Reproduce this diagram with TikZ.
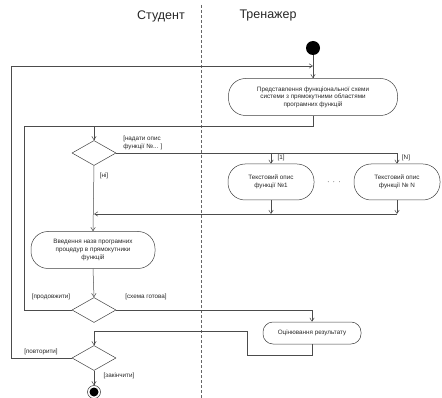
\documentclass[tikz,border=0pt]{standalone}
\usepackage{fontspec}
\setmainfont{Liberation Sans}
\usetikzlibrary{arrows.meta,shapes.geometric}
\begin{document}
\begin{tikzpicture}[x=1pt,y=-1pt,
  line width=0.5pt,
  every node/.style={text=black!85},
  arr/.style={draw=black!70,-{Straight Barb[length=3.5pt,width=4.5pt]}},
  ln/.style={draw=black!70},
  act/.style={draw=black!75,rounded corners=13pt,align=center,font=\fontsize{6.3}{7.6}\selectfont,inner sep=1pt},
  dec/.style={draw=black!75,diamond,inner sep=0pt,minimum width=44pt,minimum height=25pt},
  lbl/.style={font=\fontsize{6.3}{7.6}\selectfont,inner sep=0pt,align=left},
  hdr/.style={font=\fontsize{12.5}{14}\selectfont,inner sep=0pt}]
\useasboundingbox (0,0) rectangle (442,398);
% lanes
\node[hdr] (hs) at (161,16) {Студент};
\node[hdr] (ht) at (268,16) {Тренажер};
\coordinate (dtop) at (201,5);
\coordinate (dbot) at (201,398);
\draw[black!60,line width=0.8pt,dash pattern=on 3pt off 2pt] (dtop) -- (dbot);
% nodes
\node[circle,fill=black,minimum size=14pt,inner sep=0pt] (start) at (313,48) {};
\node[act,minimum width=169pt,minimum height=37pt,rounded corners=17pt] (b1) at (313,97)
  {Представлення функціональної схеми\\системи з прямокутними областями\\програмних функцій};
\node[dec] (d1) at (94,153) {};
\node[act,minimum width=86pt,minimum height=36pt,rounded corners=17pt] (t1) at (271,182) {Текстовий опис\\функції №1};
\node[act,minimum width=86pt,minimum height=36pt,rounded corners=17pt] (tN) at (397,182) {Текстовий опис\\функції № N};
\node[lbl,font=\fontsize{9}{10}\selectfont] (dots) at (334,182) {$\cdot$\hspace{3pt}$\cdot$\hspace{3pt}$\cdot$};
\node[act,minimum width=124pt,minimum height=37pt,rounded corners=17pt] (b2) at (93,250)
  {Введення назв програмних\\процедур в прямокутники\\функцій};
\node[dec] (d2) at (94,310) {};
\node[act,minimum width=98pt,minimum height=22pt,rounded corners=10pt] (b3) at (312,333) {Оцінювання результату};
\node[dec] (d3) at (94,358) {};
\node[circle,draw=black!80,minimum size=13pt,inner sep=0pt] (end) at (94,392) {};
\node[circle,fill=black,minimum size=9pt,inner sep=0pt] (endin) at (end) {};
% coordinates
\coordinate (m0) at (313,66);
\coordinate (j1) at (94,126);
\coordinate (j2) at (94,214);
\coordinate (br1) at (t1.north |- d1.east);
\coordinate (jt1) at (t1.south |- j2);
\coordinate (jtN) at (tN.south |- j2);
% connectors
\draw[arr] (start) -- (b1);
\draw[arr] (d3.west) -- (11,358) |- (m0);
\draw[arr] (b1.south) |- (j1) -- (d1.north);
\draw[ln] (d2.west) -- (24,310) |- (j1);
\draw[arr] (d1.east) -| (tN.north);
\draw[arr] (br1) -- (t1.north);
\draw[arr] (t1.south) -- (jt1);
\draw[arr] (tN.south) -- (jtN);
\draw[arr] (jtN) -- (j2);
\draw[arr] (d1.south) -- (b2.north);
\draw[arr] (b2.south) -- (d2.north);
\draw[arr] (d2.east) -| (b3.north);
\draw[arr] (b3.south) -- ++(0,11) -| (247,331) -| (d3.north);
\draw[arr] (d3.south) -- (end);
% labels
\node[lbl,anchor=south west] (l1) at (123,150) {[надати опис\\функції №... ]};
\node[lbl] (l2) at (281,158) {[1]};
\node[lbl] (l3) at (406,158) {[N]};
\node[lbl] (l4) at (104,176) {[ні]};
\node[lbl] (l5) at (51,297) {[продовжити]};
\node[lbl] (l6) at (146,297) {[схема готова]};
\node[lbl] (l7) at (41,352) {[повторити]};
\node[lbl] (l8) at (119,376) {[закінчити]};
\end{tikzpicture}
\end{document}
